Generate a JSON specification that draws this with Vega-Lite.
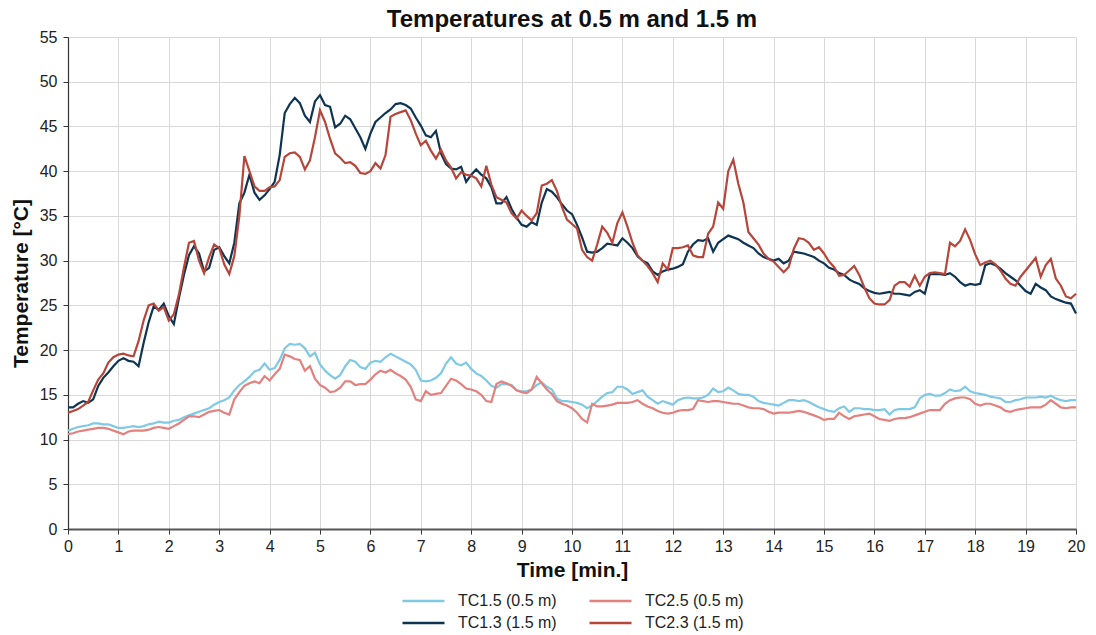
{
  "$schema": "https://vega.github.io/schema/vega-lite/v6.json",
  "width": 1008,
  "height": 492,
  "autosize": {"type": "none"},
  "padding": {"left": 68, "top": 37, "right": 20, "bottom": 106},
  "background": "white",
  "config": {
    "font": "Liberation Sans",
    "view": {"stroke": null},
    "axis": {
      "gridColor": "#d9d9d9",
      "gridWidth": 1,
      "domainColor": "#333333",
      "domainWidth": 1.2,
      "tickColor": "#333333",
      "tickSize": 5,
      "labelFont": "Liberation Sans",
      "labelFontSize": 16,
      "labelColor": "#222",
      "titleFont": "Liberation Sans",
      "titleFontSize": 21,
      "titleFontWeight": "bold",
      "titleColor": "#111"
    },
    "axisX": {"domainColor": "#555555", "domainWidth": 2.2},
    "legend": {
      "labelFont": "Liberation Sans",
      "labelFontSize": 16,
      "labelColor": "#222"
    }
  },
  "title": {
    "text": "Temperatures at 0.5 m and 1.5 m",
    "fontSize": 24,
    "fontWeight": "bold",
    "font": "Liberation Sans",
    "color": "#111",
    "anchor": "middle",
    "offset": -3
  },
  "data": {
    "values": [
      {"t":0.0,"TC15":11.0,"TC25":10.6,"TC13":13.6,"TC23":13.0},
      {"t":0.1,"TC15":11.2,"TC25":10.7,"TC13":13.6,"TC23":13.2},
      {"t":0.2,"TC15":11.4,"TC25":10.9,"TC13":14.0,"TC23":13.4},
      {"t":0.3,"TC15":11.5,"TC25":11.0,"TC13":14.3,"TC23":13.8},
      {"t":0.4,"TC15":11.6,"TC25":11.1,"TC13":14.1,"TC23":14.2},
      {"t":0.5,"TC15":11.8,"TC25":11.2,"TC13":14.5,"TC23":15.5},
      {"t":0.6,"TC15":11.8,"TC25":11.3,"TC13":16.0,"TC23":16.7},
      {"t":0.7,"TC15":11.7,"TC25":11.3,"TC13":16.9,"TC23":17.4},
      {"t":0.8,"TC15":11.7,"TC25":11.2,"TC13":17.5,"TC23":18.6},
      {"t":0.9,"TC15":11.5,"TC25":11.0,"TC13":18.2,"TC23":19.2},
      {"t":1.0,"TC15":11.3,"TC25":10.8,"TC13":18.8,"TC23":19.5},
      {"t":1.1,"TC15":11.3,"TC25":10.6,"TC13":19.1,"TC23":19.6},
      {"t":1.2,"TC15":11.4,"TC25":10.9,"TC13":18.8,"TC23":19.4},
      {"t":1.3,"TC15":11.5,"TC25":11.0,"TC13":18.7,"TC23":19.3},
      {"t":1.4,"TC15":11.4,"TC25":11.0,"TC13":18.2,"TC23":21.0},
      {"t":1.5,"TC15":11.5,"TC25":11.0,"TC13":20.8,"TC23":23.3},
      {"t":1.6,"TC15":11.7,"TC25":11.1,"TC13":23.1,"TC23":25.0},
      {"t":1.7,"TC15":11.8,"TC25":11.3,"TC13":24.9,"TC23":25.2},
      {"t":1.8,"TC15":12.0,"TC25":11.4,"TC13":24.5,"TC23":24.4},
      {"t":1.9,"TC15":11.9,"TC25":11.3,"TC13":25.2,"TC23":24.8},
      {"t":2.0,"TC15":11.9,"TC25":11.2,"TC13":23.8,"TC23":23.3},
      {"t":2.1,"TC15":12.1,"TC25":11.5,"TC13":22.9,"TC23":24.0},
      {"t":2.2,"TC15":12.2,"TC25":11.8,"TC13":25.8,"TC23":26.2},
      {"t":2.3,"TC15":12.5,"TC25":12.2,"TC13":28.4,"TC23":29.2},
      {"t":2.4,"TC15":12.7,"TC25":12.6,"TC13":30.6,"TC23":32.0},
      {"t":2.5,"TC15":12.9,"TC25":12.6,"TC13":31.6,"TC23":32.2},
      {"t":2.6,"TC15":13.1,"TC25":12.5,"TC13":30.8,"TC23":30.0},
      {"t":2.7,"TC15":13.3,"TC25":12.8,"TC13":28.8,"TC23":28.6},
      {"t":2.8,"TC15":13.5,"TC25":13.1,"TC13":29.2,"TC23":30.4},
      {"t":2.9,"TC15":13.9,"TC25":13.2,"TC13":31.2,"TC23":31.8},
      {"t":3.0,"TC15":14.2,"TC25":13.3,"TC13":31.5,"TC23":31.4},
      {"t":3.1,"TC15":14.4,"TC25":13.0,"TC13":30.5,"TC23":29.6},
      {"t":3.2,"TC15":14.7,"TC25":12.8,"TC13":29.7,"TC23":28.5},
      {"t":3.3,"TC15":15.5,"TC25":14.5,"TC13":32.0,"TC23":30.5},
      {"t":3.4,"TC15":16.1,"TC25":15.3,"TC13":36.4,"TC23":35.0},
      {"t":3.5,"TC15":16.5,"TC25":16.0,"TC13":37.6,"TC23":41.7},
      {"t":3.6,"TC15":17.0,"TC25":16.3,"TC13":39.6,"TC23":40.0},
      {"t":3.7,"TC15":17.6,"TC25":16.5,"TC13":37.6,"TC23":38.3},
      {"t":3.8,"TC15":17.8,"TC25":16.3,"TC13":36.8,"TC23":37.8},
      {"t":3.9,"TC15":18.5,"TC25":17.1,"TC13":37.3,"TC23":37.8},
      {"t":4.0,"TC15":17.8,"TC25":16.6,"TC13":38.0,"TC23":38.2},
      {"t":4.1,"TC15":18.0,"TC25":17.3,"TC13":38.8,"TC23":38.3},
      {"t":4.2,"TC15":18.9,"TC25":17.9,"TC13":41.8,"TC23":39.0},
      {"t":4.3,"TC15":20.2,"TC25":19.5,"TC13":46.5,"TC23":41.6},
      {"t":4.4,"TC15":20.7,"TC25":19.3,"TC13":47.5,"TC23":42.0},
      {"t":4.5,"TC15":20.6,"TC25":19.0,"TC13":48.2,"TC23":42.1},
      {"t":4.6,"TC15":20.7,"TC25":18.9,"TC13":47.6,"TC23":41.6},
      {"t":4.7,"TC15":20.2,"TC25":17.7,"TC13":46.2,"TC23":40.2},
      {"t":4.8,"TC15":19.3,"TC25":18.2,"TC13":45.5,"TC23":41.2},
      {"t":4.9,"TC15":19.7,"TC25":16.8,"TC13":47.8,"TC23":43.8},
      {"t":5.0,"TC15":18.4,"TC25":16.1,"TC13":48.5,"TC23":46.8},
      {"t":5.1,"TC15":17.7,"TC25":15.8,"TC13":47.4,"TC23":45.5},
      {"t":5.2,"TC15":17.2,"TC25":15.3,"TC13":47.2,"TC23":43.6},
      {"t":5.3,"TC15":16.8,"TC25":15.4,"TC13":44.9,"TC23":42.0},
      {"t":5.4,"TC15":17.2,"TC25":15.8,"TC13":45.3,"TC23":41.5},
      {"t":5.5,"TC15":18.2,"TC25":16.5,"TC13":46.2,"TC23":40.9},
      {"t":5.6,"TC15":18.9,"TC25":16.5,"TC13":45.8,"TC23":41.0},
      {"t":5.7,"TC15":18.7,"TC25":16.1,"TC13":44.8,"TC23":40.6},
      {"t":5.8,"TC15":18.1,"TC25":16.2,"TC13":43.8,"TC23":39.8},
      {"t":5.9,"TC15":17.9,"TC25":16.2,"TC13":42.5,"TC23":39.7},
      {"t":6.0,"TC15":18.6,"TC25":16.7,"TC13":44.2,"TC23":40.0},
      {"t":6.1,"TC15":18.8,"TC25":17.3,"TC13":45.5,"TC23":40.9},
      {"t":6.2,"TC15":18.7,"TC25":17.7,"TC13":46.0,"TC23":40.3},
      {"t":6.3,"TC15":19.2,"TC25":17.5,"TC13":46.5,"TC23":41.8},
      {"t":6.4,"TC15":19.6,"TC25":17.8,"TC13":46.9,"TC23":46.1},
      {"t":6.5,"TC15":19.3,"TC25":17.4,"TC13":47.5,"TC23":46.4},
      {"t":6.6,"TC15":19.0,"TC25":17.1,"TC13":47.6,"TC23":46.6},
      {"t":6.7,"TC15":18.7,"TC25":16.7,"TC13":47.4,"TC23":46.8},
      {"t":6.8,"TC15":18.4,"TC25":15.9,"TC13":47.0,"TC23":45.7},
      {"t":6.9,"TC15":17.8,"TC25":14.5,"TC13":46.0,"TC23":44.2},
      {"t":7.0,"TC15":16.6,"TC25":14.3,"TC13":45.1,"TC23":42.9},
      {"t":7.1,"TC15":16.5,"TC25":15.4,"TC13":44.0,"TC23":43.4},
      {"t":7.2,"TC15":16.6,"TC25":15.0,"TC13":43.8,"TC23":42.3},
      {"t":7.3,"TC15":16.9,"TC25":15.1,"TC13":44.5,"TC23":41.4},
      {"t":7.4,"TC15":17.4,"TC25":15.2,"TC13":42.0,"TC23":42.4},
      {"t":7.5,"TC15":18.5,"TC25":16.0,"TC13":40.8,"TC23":41.2},
      {"t":7.6,"TC15":19.2,"TC25":16.8,"TC13":40.3,"TC23":40.4},
      {"t":7.7,"TC15":18.5,"TC25":16.6,"TC13":40.2,"TC23":39.2},
      {"t":7.8,"TC15":18.3,"TC25":16.2,"TC13":40.5,"TC23":39.9},
      {"t":7.9,"TC15":18.6,"TC25":15.7,"TC13":38.8,"TC23":39.6},
      {"t":8.0,"TC15":17.9,"TC25":15.6,"TC13":39.6,"TC23":39.5},
      {"t":8.1,"TC15":17.4,"TC25":15.4,"TC13":40.2,"TC23":39.2},
      {"t":8.2,"TC15":17.1,"TC25":15.0,"TC13":39.6,"TC23":38.3},
      {"t":8.3,"TC15":16.6,"TC25":14.3,"TC13":39.2,"TC23":40.6},
      {"t":8.4,"TC15":16.0,"TC25":14.2,"TC13":38.2,"TC23":38.5},
      {"t":8.5,"TC15":15.8,"TC25":16.2,"TC13":36.4,"TC23":37.1},
      {"t":8.6,"TC15":16.2,"TC25":16.5,"TC13":36.4,"TC23":36.8},
      {"t":8.7,"TC15":16.2,"TC25":16.3,"TC13":37.1,"TC23":36.5},
      {"t":8.8,"TC15":16.1,"TC25":16.0,"TC13":35.8,"TC23":35.3},
      {"t":8.9,"TC15":15.5,"TC25":15.5,"TC13":34.8,"TC23":34.7},
      {"t":9.0,"TC15":15.4,"TC25":15.3,"TC13":34.0,"TC23":35.6},
      {"t":9.1,"TC15":15.4,"TC25":15.2,"TC13":33.8,"TC23":35.0},
      {"t":9.2,"TC15":15.6,"TC25":15.6,"TC13":34.3,"TC23":34.5},
      {"t":9.3,"TC15":16.1,"TC25":17.0,"TC13":34.0,"TC23":35.3},
      {"t":9.4,"TC15":16.4,"TC25":16.3,"TC13":36.5,"TC23":38.4},
      {"t":9.5,"TC15":15.9,"TC25":15.6,"TC13":38.0,"TC23":38.6},
      {"t":9.6,"TC15":15.6,"TC25":15.1,"TC13":37.7,"TC23":39.0},
      {"t":9.7,"TC15":14.6,"TC25":14.3,"TC13":37.1,"TC23":37.8},
      {"t":9.8,"TC15":14.3,"TC25":14.0,"TC13":36.3,"TC23":36.0},
      {"t":9.9,"TC15":14.3,"TC25":13.8,"TC13":35.6,"TC23":34.6},
      {"t":10.0,"TC15":14.2,"TC25":13.5,"TC13":35.2,"TC23":34.1},
      {"t":10.1,"TC15":14.1,"TC25":13.0,"TC13":34.0,"TC23":33.6},
      {"t":10.2,"TC15":13.9,"TC25":12.3,"TC13":32.6,"TC23":31.2},
      {"t":10.3,"TC15":13.5,"TC25":11.9,"TC13":31.0,"TC23":30.4},
      {"t":10.4,"TC15":13.8,"TC25":14.0,"TC13":30.9,"TC23":30.0},
      {"t":10.5,"TC15":14.3,"TC25":13.7,"TC13":31.0,"TC23":31.8},
      {"t":10.6,"TC15":14.8,"TC25":13.7,"TC13":31.4,"TC23":33.8},
      {"t":10.7,"TC15":15.2,"TC25":13.8,"TC13":31.9,"TC23":33.1},
      {"t":10.8,"TC15":15.3,"TC25":13.9,"TC13":31.8,"TC23":32.0},
      {"t":10.9,"TC15":15.9,"TC25":14.1,"TC13":31.7,"TC23":34.2},
      {"t":11.0,"TC15":15.9,"TC25":14.1,"TC13":32.5,"TC23":35.4},
      {"t":11.1,"TC15":15.6,"TC25":14.1,"TC13":32.0,"TC23":33.8},
      {"t":11.2,"TC15":15.1,"TC25":14.2,"TC13":31.4,"TC23":32.0},
      {"t":11.3,"TC15":15.3,"TC25":14.4,"TC13":30.5,"TC23":30.6},
      {"t":11.4,"TC15":15.5,"TC25":14.0,"TC13":30.0,"TC23":30.0},
      {"t":11.5,"TC15":14.8,"TC25":13.7,"TC13":29.7,"TC23":29.4},
      {"t":11.6,"TC15":14.4,"TC25":13.5,"TC13":28.8,"TC23":28.6},
      {"t":11.7,"TC15":14.0,"TC25":13.2,"TC13":28.4,"TC23":27.6},
      {"t":11.8,"TC15":14.3,"TC25":13.0,"TC13":28.8,"TC23":29.7},
      {"t":11.9,"TC15":14.1,"TC25":12.9,"TC13":29.0,"TC23":29.0},
      {"t":12.0,"TC15":13.9,"TC25":13.0,"TC13":29.1,"TC23":31.4},
      {"t":12.1,"TC15":14.4,"TC25":13.2,"TC13":29.3,"TC23":31.4},
      {"t":12.2,"TC15":14.6,"TC25":13.3,"TC13":29.6,"TC23":31.5},
      {"t":12.3,"TC15":14.7,"TC25":13.3,"TC13":31.0,"TC23":31.7},
      {"t":12.4,"TC15":14.6,"TC25":13.4,"TC13":31.8,"TC23":30.6},
      {"t":12.5,"TC15":14.6,"TC25":14.4,"TC13":32.3,"TC23":30.4},
      {"t":12.6,"TC15":14.7,"TC25":14.3,"TC13":32.2,"TC23":30.4},
      {"t":12.7,"TC15":15.0,"TC25":14.2,"TC13":32.5,"TC23":33.0},
      {"t":12.8,"TC15":15.7,"TC25":14.3,"TC13":31.0,"TC23":33.8},
      {"t":12.9,"TC15":15.3,"TC25":14.3,"TC13":32.0,"TC23":36.5},
      {"t":13.0,"TC15":15.4,"TC25":14.2,"TC13":32.4,"TC23":35.8},
      {"t":13.1,"TC15":15.8,"TC25":14.1,"TC13":32.8,"TC23":40.0},
      {"t":13.2,"TC15":15.5,"TC25":14.0,"TC13":32.6,"TC23":41.3},
      {"t":13.3,"TC15":15.1,"TC25":14.0,"TC13":32.4,"TC23":38.6},
      {"t":13.4,"TC15":15.0,"TC25":13.8,"TC13":32.0,"TC23":36.5},
      {"t":13.5,"TC15":15.0,"TC25":13.6,"TC13":31.7,"TC23":33.2},
      {"t":13.6,"TC15":14.8,"TC25":13.5,"TC13":31.4,"TC23":32.5},
      {"t":13.7,"TC15":14.3,"TC25":13.5,"TC13":30.8,"TC23":31.8},
      {"t":13.8,"TC15":14.1,"TC25":13.4,"TC13":30.4,"TC23":30.8},
      {"t":13.9,"TC15":14.0,"TC25":13.1,"TC13":30.2,"TC23":30.2},
      {"t":14.0,"TC15":13.9,"TC25":12.9,"TC13":30.0,"TC23":29.9},
      {"t":14.1,"TC15":13.8,"TC25":13.0,"TC13":30.2,"TC23":29.3},
      {"t":14.2,"TC15":14.1,"TC25":13.0,"TC13":29.7,"TC23":28.7},
      {"t":14.3,"TC15":14.4,"TC25":13.0,"TC13":30.0,"TC23":29.3},
      {"t":14.4,"TC15":14.4,"TC25":13.1,"TC13":31.0,"TC23":31.3},
      {"t":14.5,"TC15":14.3,"TC25":13.2,"TC13":30.9,"TC23":32.5},
      {"t":14.6,"TC15":14.4,"TC25":13.1,"TC13":30.8,"TC23":32.4},
      {"t":14.7,"TC15":14.2,"TC25":12.9,"TC13":30.6,"TC23":32.0},
      {"t":14.8,"TC15":13.9,"TC25":12.7,"TC13":30.4,"TC23":31.2},
      {"t":14.9,"TC15":13.6,"TC25":12.5,"TC13":30.0,"TC23":31.5},
      {"t":15.0,"TC15":13.4,"TC25":12.2,"TC13":29.7,"TC23":30.8},
      {"t":15.1,"TC15":13.2,"TC25":12.3,"TC13":29.2,"TC23":29.9},
      {"t":15.2,"TC15":13.1,"TC25":12.3,"TC13":29.0,"TC23":29.3},
      {"t":15.3,"TC15":13.5,"TC25":13.0,"TC13":28.6,"TC23":28.3},
      {"t":15.4,"TC15":13.7,"TC25":12.6,"TC13":28.4,"TC23":28.4},
      {"t":15.5,"TC15":13.1,"TC25":12.3,"TC13":27.9,"TC23":28.9},
      {"t":15.6,"TC15":13.5,"TC25":12.6,"TC13":27.6,"TC23":29.4},
      {"t":15.7,"TC15":13.5,"TC25":12.7,"TC13":27.4,"TC23":28.4},
      {"t":15.8,"TC15":13.4,"TC25":12.8,"TC13":26.9,"TC23":27.0},
      {"t":15.9,"TC15":13.4,"TC25":12.9,"TC13":26.6,"TC23":25.8},
      {"t":16.0,"TC15":13.3,"TC25":12.6,"TC13":26.4,"TC23":25.2},
      {"t":16.1,"TC15":13.3,"TC25":12.3,"TC13":26.3,"TC23":25.1},
      {"t":16.2,"TC15":13.4,"TC25":12.2,"TC13":26.4,"TC23":25.1},
      {"t":16.3,"TC15":12.8,"TC25":12.1,"TC13":26.5,"TC23":25.6},
      {"t":16.4,"TC15":13.3,"TC25":12.3,"TC13":26.3,"TC23":27.2},
      {"t":16.5,"TC15":13.4,"TC25":12.4,"TC13":26.3,"TC23":27.6},
      {"t":16.6,"TC15":13.4,"TC25":12.4,"TC13":26.2,"TC23":27.6},
      {"t":16.7,"TC15":13.4,"TC25":12.5,"TC13":26.1,"TC23":27.1},
      {"t":16.8,"TC15":13.6,"TC25":12.7,"TC13":26.5,"TC23":28.3},
      {"t":16.9,"TC15":14.6,"TC25":12.9,"TC13":26.7,"TC23":27.2},
      {"t":17.0,"TC15":15.0,"TC25":13.1,"TC13":26.3,"TC23":28.2},
      {"t":17.1,"TC15":15.1,"TC25":13.3,"TC13":28.5,"TC23":28.6},
      {"t":17.2,"TC15":14.9,"TC25":13.3,"TC13":28.5,"TC23":28.7},
      {"t":17.3,"TC15":14.9,"TC25":13.3,"TC13":28.5,"TC23":28.6},
      {"t":17.4,"TC15":15.2,"TC25":14.0,"TC13":28.4,"TC23":28.5},
      {"t":17.5,"TC15":15.6,"TC25":14.4,"TC13":28.6,"TC23":32.0},
      {"t":17.6,"TC15":15.4,"TC25":14.6,"TC13":28.2,"TC23":31.6},
      {"t":17.7,"TC15":15.5,"TC25":14.7,"TC13":27.6,"TC23":32.2},
      {"t":17.8,"TC15":15.9,"TC25":14.7,"TC13":27.2,"TC23":33.5},
      {"t":17.9,"TC15":15.4,"TC25":14.5,"TC13":27.4,"TC23":32.3},
      {"t":18.0,"TC15":15.2,"TC25":14.0,"TC13":27.3,"TC23":30.7},
      {"t":18.1,"TC15":15.1,"TC25":13.8,"TC13":27.4,"TC23":29.5},
      {"t":18.2,"TC15":15.0,"TC25":14.0,"TC13":29.5,"TC23":29.8},
      {"t":18.3,"TC15":14.8,"TC25":14.0,"TC13":29.7,"TC23":30.0},
      {"t":18.4,"TC15":14.7,"TC25":13.8,"TC13":29.5,"TC23":29.6},
      {"t":18.5,"TC15":14.6,"TC25":13.6,"TC13":29.1,"TC23":28.9},
      {"t":18.6,"TC15":14.2,"TC25":13.2,"TC13":28.6,"TC23":28.0},
      {"t":18.7,"TC15":14.2,"TC25":13.1,"TC13":28.2,"TC23":27.4},
      {"t":18.8,"TC15":14.4,"TC25":13.3,"TC13":27.8,"TC23":27.2},
      {"t":18.9,"TC15":14.5,"TC25":13.4,"TC13":27.2,"TC23":28.2},
      {"t":19.0,"TC15":14.7,"TC25":13.5,"TC13":26.6,"TC23":28.9},
      {"t":19.1,"TC15":14.7,"TC25":13.6,"TC13":26.3,"TC23":29.6},
      {"t":19.2,"TC15":14.7,"TC25":13.6,"TC13":27.4,"TC23":30.3},
      {"t":19.3,"TC15":14.8,"TC25":13.6,"TC13":27.0,"TC23":28.2},
      {"t":19.4,"TC15":14.7,"TC25":13.9,"TC13":26.7,"TC23":29.5},
      {"t":19.5,"TC15":14.9,"TC25":14.4,"TC13":26.0,"TC23":30.2},
      {"t":19.6,"TC15":14.6,"TC25":14.0,"TC13":25.7,"TC23":28.0},
      {"t":19.7,"TC15":14.4,"TC25":13.6,"TC13":25.5,"TC23":27.2},
      {"t":19.8,"TC15":14.3,"TC25":13.5,"TC13":25.3,"TC23":26.0},
      {"t":19.9,"TC15":14.4,"TC25":13.6,"TC13":25.2,"TC23":25.8},
      {"t":20.0,"TC15":14.4,"TC25":13.6,"TC13":24.1,"TC23":26.3}
    ]
  },
  "transform": [
    {"fold": ["TC15", "TC25", "TC13", "TC23"], "as": ["series", "temp"]}
  ],
  "mark": {"type": "line", "strokeWidth": 2.2, "interpolate": "linear"},
  "encoding": {
    "x": {
      "field": "t",
      "type": "quantitative",
      "title": "Time [min.]",
      "scale": {"domain": [0, 20], "nice": false, "zero": false},
      "axis": {"values": [0,1,2,3,4,5,6,7,8,9,10,11,12,13,14,15,16,17,18,19,20], "format": "d", "labelPadding": 4, "titlePadding": 5, "labelFlush": false}
    },
    "y": {
      "field": "temp",
      "type": "quantitative",
      "title": "Temperature [°C]",
      "scale": {"domain": [0, 55], "nice": false},
      "axis": {"values": [0,5,10,15,20,25,30,35,40,45,50,55], "labelPadding": 6, "titlePadding": 8, "labelFlush": false}
    },
    "color": {
      "field": "series",
      "type": "nominal",
      "scale": {
        "domain": ["TC15", "TC13", "TC25", "TC23"],
        "range": ["#7fc9e4", "#0e3452", "#e3817f", "#b6453a"]
      },
      "legend": {
        "title": null,
        "orient": "none",
        "legendX": 354,
        "legendY": 552,
        "columns": 2,
        "symbolType": "M-3,0H1",
        "symbolSize": 441,
        "symbolStrokeWidth": 2.5,
        "symbolFillColor": "transparent",
        "labelOffset": 12,
        "columnPadding": 27,
        "rowPadding": 2,
        "padding": 0,
        "labelExpr": "datum.label == 'TC15' ? 'TC1.5 (0.5 m)' : datum.label == 'TC25' ? 'TC2.5 (0.5 m)' : datum.label == 'TC13' ? 'TC1.3 (1.5 m)' : 'TC2.3 (1.5 m)'"
      }
    },
    "order": {"field": "t"}
  }
}
